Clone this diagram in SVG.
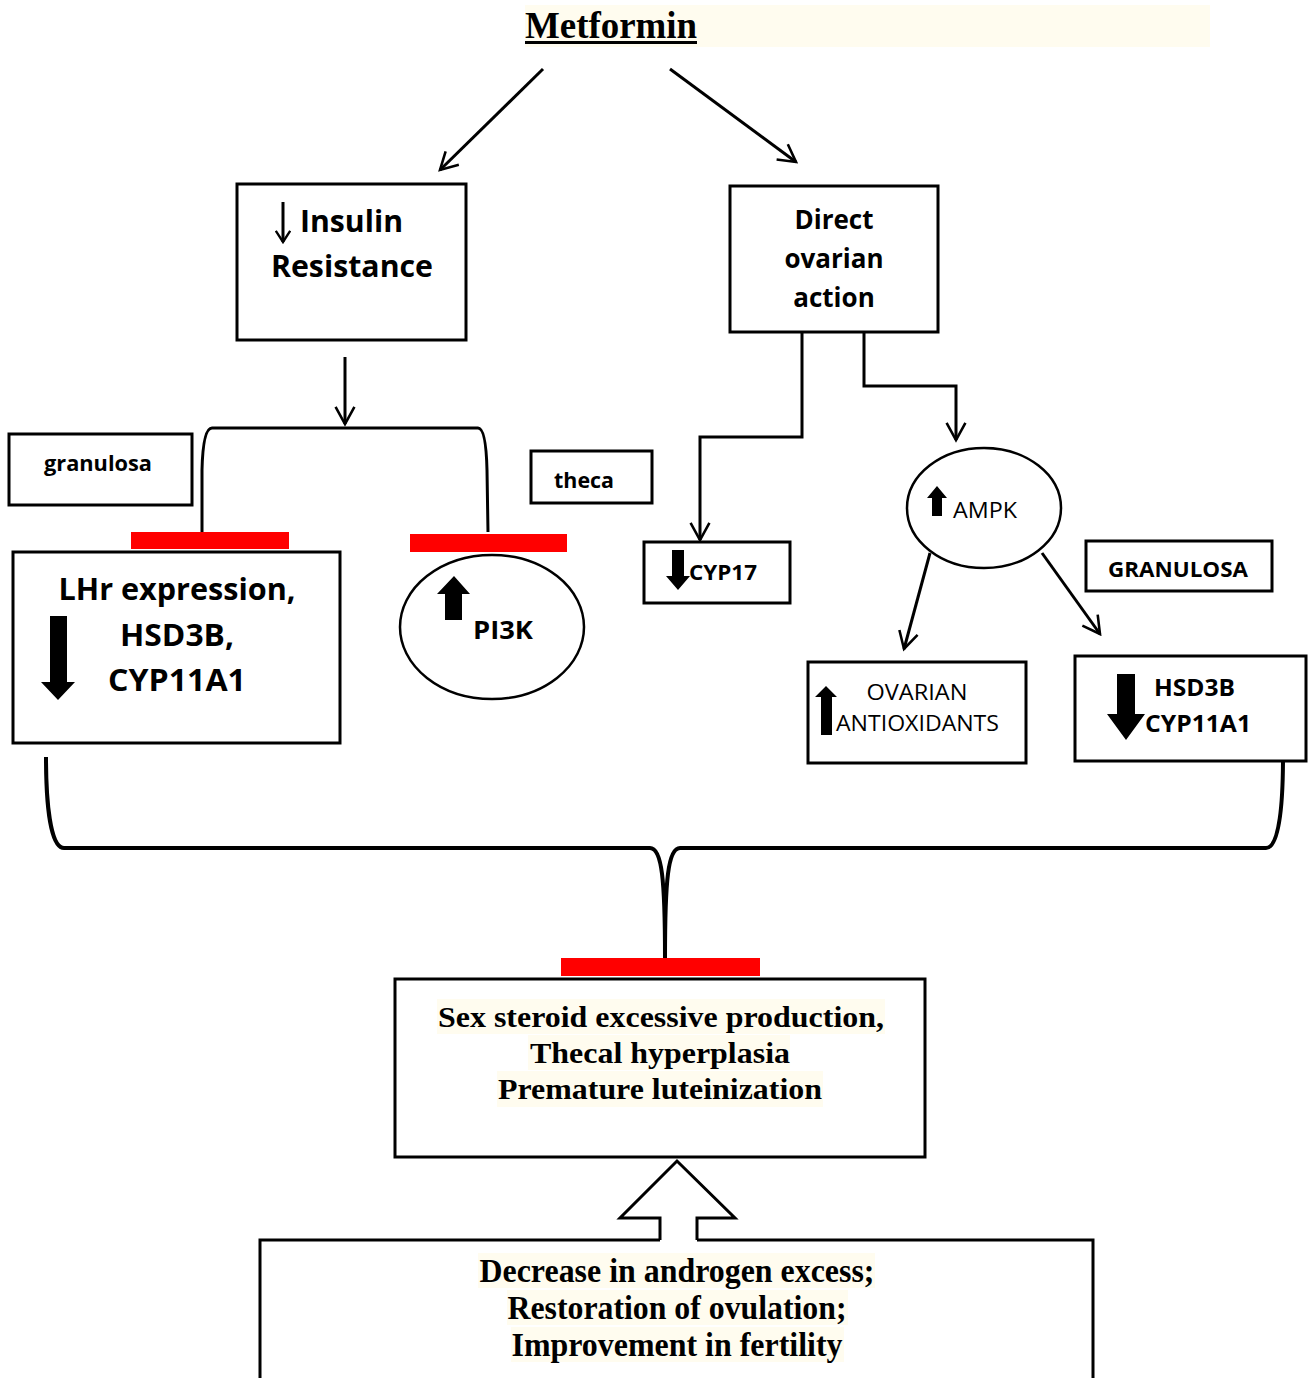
<svg xmlns="http://www.w3.org/2000/svg" width="1310" height="1378" viewBox="0 0 1310 1378">
<defs>
<marker id="open" markerWidth="16" markerHeight="16" viewBox="-16 -10 18 20" refX="0" refY="0" orient="auto" markerUnits="userSpaceOnUse">
<path d="M-14,-9 L0,0 L-14,9" fill="none" stroke="#000" stroke-width="3"/>
</marker>
<marker id="open2" markerWidth="24" markerHeight="24" viewBox="-24 -14 26 28" refX="0" refY="0" orient="auto" markerUnits="userSpaceOnUse">
<path d="M-20,-11 L0,0 L-20,11" fill="none" stroke="#000" stroke-width="3"/>
</marker>
</defs>
<style>
.box{fill:#fff;stroke:#000;stroke-width:3}
.sans{font-family:"Open Sans","Noto Sans","Liberation Sans",sans-serif;font-weight:bold;fill:#000}
.sansr{font-family:"Open Sans","Noto Sans","Liberation Sans",sans-serif;font-weight:normal;fill:#000}
.serif{font-family:"Liberation Serif","Times New Roman",serif;font-weight:bold;fill:#000}
.hl{fill:#fffcef}
.red{fill:#ff0000}
.ln{fill:none;stroke:#000;stroke-width:3}
</style>
<rect width="1310" height="1378" fill="#fff"/>

<g id="metformin">
<rect class="hl" x="525" y="5" width="685" height="42"/>
<text class="serif" x="525" y="38" font-size="38" textLength="172" lengthAdjust="spacingAndGlyphs">Metformin</text>
<rect x="525" y="41" width="172" height="3" fill="#000"/>
</g>

<g id="connectors">
<line class="ln" x1="543" y1="69" x2="440" y2="170" marker-end="url(#open2)"/>
<line class="ln" x1="670" y1="69" x2="796" y2="162" marker-end="url(#open2)"/>
<line class="ln" x1="345" y1="357" x2="345" y2="424" marker-end="url(#open2)"/>
<path class="ln" d="M202,532 L202,470 Q203,428 212,428 L478,428 Q486,428 487,470 L488,532"/>
<polyline class="ln" points="802,332 802,437 700,437 700,540" marker-end="url(#open2)"/>
<polyline class="ln" points="864,332 864,386 956,386 956,440" marker-end="url(#open2)"/>
<line class="ln" x1="930" y1="553" x2="904" y2="649" marker-end="url(#open2)"/>
<line class="ln" x1="1042" y1="553" x2="1100" y2="634" marker-end="url(#open2)"/>
<path d="M46,757 C46,800 50,848 64,848 L650,848 C662,848 665,880 665,958 M1283,757 C1283,800 1280,848 1266,848 L680,848 C668,848 665,880 665,958" fill="none" stroke="#000" stroke-width="4"/>
</g>

<g id="insulin">
<rect class="box" x="237" y="184" width="229" height="156"/>
<line x1="283" y1="202" x2="283" y2="242" stroke="#000" stroke-width="3" marker-end="url(#open)"/>
<text class="sans" x="300" y="232" font-size="31" textLength="103" lengthAdjust="spacingAndGlyphs">Insulin</text>
<text class="sans" x="271" y="277" font-size="31" textLength="162" lengthAdjust="spacingAndGlyphs">Resistance</text>
</g>

<g id="direct">
<rect class="box" x="730" y="186" width="208" height="146"/>
<text class="sans" x="834" y="229" font-size="26" text-anchor="middle">Direct</text>
<text class="sans" x="834" y="268" font-size="26" text-anchor="middle">ovarian</text>
<text class="sans" x="834" y="307" font-size="26" text-anchor="middle">action</text>
</g>

<g id="granulosa">
<rect class="box" x="9" y="434" width="183" height="71"/>
<text class="sans" x="98" y="471" font-size="21" text-anchor="middle" textLength="108" lengthAdjust="spacingAndGlyphs">granulosa</text>
</g>

<g id="theca">
<rect class="box" x="531" y="451" width="121" height="52"/>
<text class="sans" x="554" y="488" font-size="21" textLength="60" lengthAdjust="spacingAndGlyphs">theca</text>
</g>

<g id="inhib-bars">
<rect class="red" x="131" y="532" width="158" height="17"/>
<rect class="red" x="410" y="534" width="157" height="18"/>
<rect class="red" x="561" y="958" width="199" height="18"/>
</g>

<g id="lhr">
<rect class="box" x="13" y="552" width="327" height="191"/>
<text class="sans" x="177" y="600" font-size="31" text-anchor="middle" textLength="237" lengthAdjust="spacingAndGlyphs">LHr expression,</text>
<text class="sans" x="177" y="646" font-size="31" text-anchor="middle" textLength="114" lengthAdjust="spacingAndGlyphs">HSD3B,</text>
<text class="sans" x="177" y="691" font-size="31" text-anchor="middle" textLength="138" lengthAdjust="spacingAndGlyphs">CYP11A1</text>
<polygon points="50,616 67,616 67,682 75,682 58,700 41,682 50,682" fill="#000"/>
</g>

<g id="pi3k">
<ellipse cx="492" cy="627" rx="92" ry="72" fill="#fff" stroke="#000" stroke-width="2.5"/>
<polygon points="445,620 462,620 462,594 470,594 454,576 437,594 445,594" fill="#000"/>
<text class="sans" x="473" y="639" font-size="25" textLength="60" lengthAdjust="spacingAndGlyphs">PI3K</text>
</g>

<g id="cyp17">
<rect class="box" x="644" y="542" width="146" height="61"/>
<polygon points="672,550 684,550 684,576 690,576 678,590 666,576 672,576" fill="#000"/>
<text class="sans" x="689" y="580" font-size="21" textLength="68" lengthAdjust="spacingAndGlyphs">CYP17</text>
</g>

<g id="ampk">
<ellipse cx="984" cy="508" rx="77" ry="60" fill="#fff" stroke="#000" stroke-width="2.5"/>
<polygon points="932,516 942,516 942,498 947,498 937,486 927,498 932,498" fill="#000"/>
<text class="sansr" x="953" y="518" font-size="21" textLength="64" lengthAdjust="spacingAndGlyphs">AMPK</text>
</g>

<g id="granulosa2">
<rect class="box" x="1086" y="541" width="186" height="50"/>
<text class="sans" x="1178" y="577" font-size="21" text-anchor="middle" textLength="140" lengthAdjust="spacingAndGlyphs">GRANULOSA</text>
</g>

<g id="antioxidants">
<rect class="box" x="808" y="662" width="218" height="101"/>
<polygon points="821,735 832,735 832,697 837,697 826,686 815,697 821,697" fill="#000"/>
<text class="sansr" x="917" y="700" font-size="21" text-anchor="middle" textLength="101" lengthAdjust="spacingAndGlyphs">OVARIAN</text>
<text class="sansr" x="836" y="731" font-size="21" textLength="163" lengthAdjust="spacingAndGlyphs">ANTIOXIDANTS</text>
</g>

<g id="hsd3b">
<rect class="box" x="1075" y="656" width="231" height="105"/>
<polygon points="1117,674 1135,674 1135,714 1145,714 1126,740 1107,714 1117,714" fill="#000"/>
<text class="sans" x="1154" y="696" font-size="24" textLength="81" lengthAdjust="spacingAndGlyphs">HSD3B</text>
<text class="sans" x="1145" y="732" font-size="24" textLength="106" lengthAdjust="spacingAndGlyphs">CYP11A1</text>
</g>

<g id="sexsteroid">
<rect class="box" x="395" y="979" width="530" height="178"/>
<rect class="hl" x="437" y="999" width="448" height="35"/>
<rect class="hl" x="528" y="1035" width="262" height="35"/>
<rect class="hl" x="497" y="1071" width="326" height="36"/>
<text class="serif" x="661" y="1027" font-size="30" text-anchor="middle" textLength="446" lengthAdjust="spacingAndGlyphs">Sex steroid excessive production,</text>
<text class="serif" x="660" y="1063" font-size="30" text-anchor="middle" textLength="260" lengthAdjust="spacingAndGlyphs">Thecal hyperplasia</text>
<text class="serif" x="660" y="1099" font-size="30" text-anchor="middle" textLength="324" lengthAdjust="spacingAndGlyphs">Premature luteinization</text>
</g>

<g id="blockarrow">
<path d="M660,1240 L660,1218 L620,1218 L677,1161 L735,1218 L697,1218 L697,1240" fill="#fff" stroke="#000" stroke-width="3"/>
</g>

<g id="outcome">
<path d="M260,1380 L260,1240 L660,1240 M697,1240 L1093,1240 L1093,1380" fill="none" stroke="#000" stroke-width="3"/>
<rect class="hl" x="478" y="1253" width="397" height="35"/>
<rect class="hl" x="507" y="1290" width="341" height="35"/>
<rect class="hl" x="511" y="1327" width="333" height="35"/>
<text class="serif" x="677" y="1282" font-size="33" text-anchor="middle" textLength="395" lengthAdjust="spacingAndGlyphs">Decrease in androgen excess;</text>
<text class="serif" x="677" y="1319" font-size="33" text-anchor="middle" textLength="339" lengthAdjust="spacingAndGlyphs">Restoration of ovulation;</text>
<text class="serif" x="677" y="1356" font-size="33" text-anchor="middle" textLength="331" lengthAdjust="spacingAndGlyphs">Improvement in fertility</text>
</g>
</svg>
